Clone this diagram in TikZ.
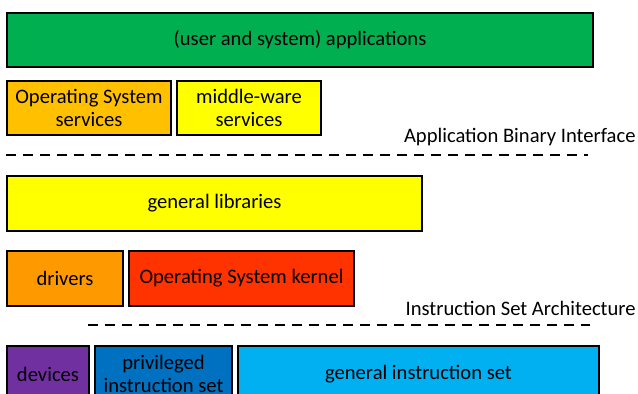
\documentclass[tikz,border=0pt]{standalone}
\usepackage{fontspec}
\setmainfont{Carlito}
\usetikzlibrary{positioning}
\definecolor{appgreen}{HTML}{00B050}
\definecolor{osorange}{HTML}{FFC000}
\definecolor{mwyellow}{HTML}{FFFF00}
\definecolor{drvorange}{HTML}{FF9900}
\definecolor{kernred}{HTML}{FF3300}
\definecolor{devpurple}{HTML}{7030A0}
\definecolor{privblue}{HTML}{0070C0}
\definecolor{gisblue}{HTML}{00B0F0}
\tikzset{
layer/.style 2 args={
  rectangle,
  draw=black,
  line width=1pt,
  inner sep=0pt,
  align=center,
  minimum width=#1*0.5pt,
  minimum height=#2*0.5pt,
  font=\fontsize{10.3}{11.3}\selectfont
  },
iface/.style={
  line width=1pt,
  dash pattern=on 5pt off 3.5pt
  },
ifacelabel/.style={
  anchor=east,
  inner sep=0pt,
  font=\fontsize{10.3}{11.3}\selectfont
  }
}

\begin{document}
\begin{tikzpicture}[x=0.5pt,y=-0.5pt]
\useasboundingbox (0,0) rectangle (638,394);

% applications
\node[layer={586}{54},fill=appgreen,anchor=north west] (apps) at (6,12)
  {(user and system) applications};

\node[layer={164}{54},fill=osorange,anchor=north west] (oss) at (6,80)
  {Operating System\\services};
\node[layer={144}{54},fill=mwyellow,right=2pt of oss] (mw)
  {middle-ware\\services};

% ABI
\coordinate (abi-l) at (6,155);
\coordinate (abi-r) at (588,155);
\draw[iface] (abi-l) -- (abi-r);
\node[ifacelabel] (abi) at (636,137) {Application Binary Interface};

\node[layer={415}{55},fill=mwyellow,anchor=north west] (libs) at (6,175)
  {general libraries};

\node[layer={116}{55},fill=drvorange,anchor=north west] (drv) at (6,250)
  {drivers};
\node[layer={225}{55},fill=kernred,right=2pt of drv] (kern)
  {Operating System kernel};

% ISA
\coordinate (isa-l) at (88,325);
\coordinate (isa-r) at (590,325);
\draw[iface] (isa-l) -- (isa-r);
\node[ifacelabel] (isa) at (636,308) {Instruction Set Architecture};

\node[layer={82}{56},fill=devpurple,anchor=north west] (dev) at (6,345)
  {devices};
\node[layer={137}{56},fill=privblue,right=2pt of dev] (priv)
  {privileged\\instruction set};
\node[layer={361}{56},fill=gisblue,right=2pt of priv] (gis)
  {general instruction set};

\end{tikzpicture}
\end{document}
